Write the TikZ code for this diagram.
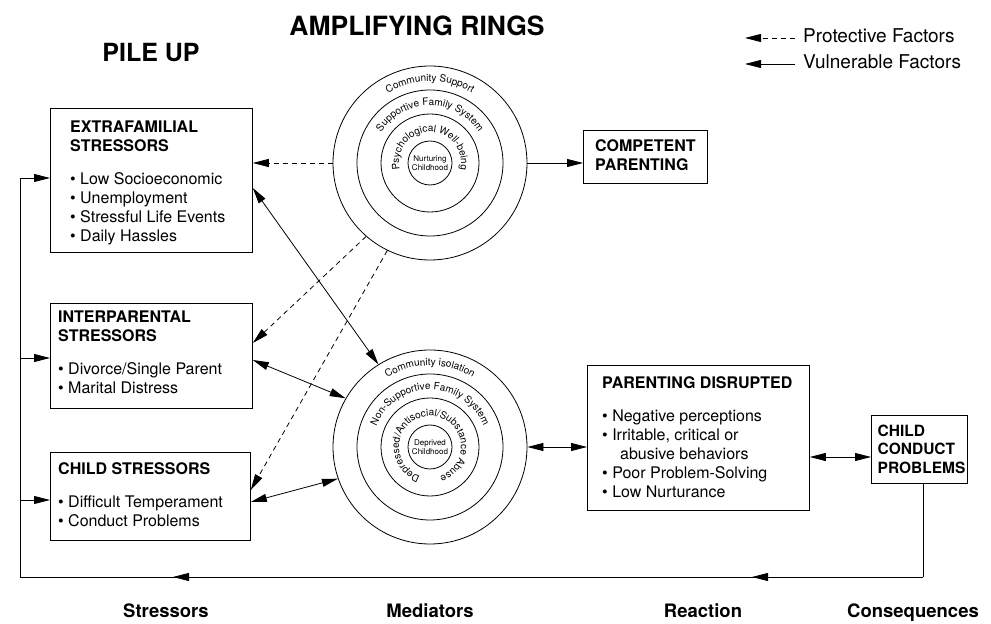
\documentclass[tikz,border=0pt]{standalone}
\usepackage{fontspec}
\setmainfont{TeX Gyre Heros}
\usetikzlibrary{arrows.meta,decorations.text,decorations.markings}

\newcommand{\ringfont}{\fontsize{10pt}{10pt}\selectfont}
\newcommand{\corefont}{\fontsize{8pt}{8.5pt}\selectfont}
\newcommand{\boxfont}{\fontsize{16pt}{19pt}\selectfont}
\newcommand{\smallboxfont}{\fontsize{15.5pt}{18.5pt}\selectfont}
\newcommand{\legendfont}{\fontsize{19pt}{22pt}\selectfont}
\newcommand{\colfont}{\fontsize{18.5pt}{22pt}\selectfont\bfseries}
\newcommand{\titlefont}{\fontsize{25pt}{28pt}\selectfont\bfseries}
\newcommand{\bigtitlefont}{\fontsize{26.5pt}{28pt}\selectfont\bfseries}

\tikzset{
  >={Triangle[length=16pt,width=8pt]},
  conn/.style={line width=0.8pt},
  vul/.style={conn,->},
  vulboth/.style={conn,<->},
  prot/.style={conn,->,dash pattern=on 5pt off 4pt},
  stressbox/.style={draw,line width=0.8pt,rectangle,anchor=north west,inner sep=0pt},
  % text blocks hang from the cap line of their first (capitalised) line
  boxtext/.style={anchor=north west,inner sep=0pt,align=left,font=\boxfont},
  ring/.style={circle,draw,line width=0.8pt,inner sep=0pt,minimum size=194pt},
  ringline/.style={line width=0.8pt},
  core/.style={align=center,inner sep=0pt,font=\corefont},
  ringtext/.style={decorate,decoration={text along path,text align=center,text={|\ringfont|#1}}},
  title/.style={anchor=base,inner sep=0pt,font=\titlefont},
  bigtitle/.style={anchor=base,inner sep=0pt,font=\bigtitlefont},
  legendtext/.style={anchor=base west,inner sep=0pt,font=\legendfont},
  collabel/.style={anchor=base,inner sep=0pt,font=\colfont},
}

\begin{document}
\begin{tikzpicture}[x=1pt,y=1pt]
\useasboundingbox (0,0) rectangle (991,624);
\fill[white] (0,0) rectangle (991,624);

% headings
\node[bigtitle] (ttlRings) at (417,588) {AMPLIFYING RINGS};
\node[title] (ttlPile) at (151,562) {PILE UP};

% legend
\coordinate (lgPtip) at (745,586);
\coordinate (lgPend) at (795,586);
\coordinate (lgVtip) at (745,560);
\coordinate (lgVend) at (795,560);
\draw[prot] (lgPend) -- (lgPtip);
\draw[vul] (lgVend) -- (lgVtip);
\node[legendtext] (lgP) at (803,581) {Protective Factors};
\node[legendtext] (lgV) at (803,555) {Vulnerable Factors};

% protective rings
\node[ring] (ringsT) at (430,461) {};
\draw[ringline] (ringsT.center) circle[radius=73];
\draw[ringline] (ringsT.center) circle[radius=49];
\draw[ringline] (ringsT.center) circle[radius=22];
\node[core] (coreT) at (ringsT.center) {Nurturing\\Childhood};
\begin{scope}[shift={(ringsT.center)}]
  \path[ringtext={Community Support}] (160:81.5) arc[start angle=160,end angle=20,radius=81.5];
  \path[ringtext={Supportive Family System}] (180:57.5) arc[start angle=180,end angle=0,radius=57.5];
  \path[ringtext={Psychological Well-being}] (220:31) arc[start angle=220,end angle=-40,radius=31];
\end{scope}

% vulnerable rings
\node[ring] (ringsB) at (430,177) {};
\draw[ringline] (ringsB.center) circle[radius=73];
\draw[ringline] (ringsB.center) circle[radius=49];
\draw[ringline] (ringsB.center) circle[radius=22];
\node[core] (coreB) at (ringsB.center) {Deprived\\Childhood};
\begin{scope}[shift={(ringsB.center)}]
  \path[ringtext={Community isolation}] (160:81.5) arc[start angle=160,end angle=20,radius=81.5];
  \path[ringtext={Non-Supportive Family System}] (200:57.5) arc[start angle=200,end angle=-20,radius=57.5];
  \path[ringtext={Depressed/Antisocial/Substance Abuse}] (268:31) arc[start angle=268,end angle=-88,radius=31];
\end{scope}

% boxes
\node[stressbox,minimum width=202pt,minimum height=144pt] (ext) at (50,516) {};
\node[stressbox,minimum width=202pt,minimum height=105pt] (inter) at (50,321) {};
\node[stressbox,minimum width=200pt,minimum height=88pt] (child) at (50,172) {};
\node[stressbox,minimum width=124pt,minimum height=53pt] (comp) at (583,494) {};
\node[stressbox,minimum width=222pt,minimum height=145pt] (pd) at (587,259) {};
\node[stressbox,minimum width=96pt,minimum height=68pt] (ccp) at (871,209) {};

\node[boxtext] (extT) at (70,503.6) {\textbf{EXTRAFAMILIAL}\\\textbf{STRESSORS}\\[14.5pt]
  \textbullet{} Low Socioeconomic\\\textbullet{} Unemployment\\\textbullet{} Stressful Life Events\\\textbullet{} Daily Hassles};
\node[boxtext] (interT) at (58,313.6) {\textbf{INTERPARENTAL}\\\textbf{STRESSORS}\\[14.5pt]
  \textbullet{} Divorce/Single Parent\\\textbullet{} Marital Distress};
\node[boxtext] (childT) at (58,161.6) {\textbf{CHILD STRESSORS}\\[14.5pt]
  \textbullet{} Difficult Temperament\\\textbullet{} Conduct Problems};
\node[boxtext] (compT) at (595,484.6) {\textbf{COMPETENT}\\\textbf{PARENTING}};
\node[boxtext] (pdT) at (602,247.6) {\textbf{PARENTING DISRUPTED}\\[14.5pt]
  \textbullet{} Negative perceptions\\\textbullet{} Irritable, critical or\\\hspace*{18pt}abusive behaviors\\
  \textbullet{} Poor Problem-Solving\\\textbullet{} Low Nurturance};
\node[boxtext,font=\smallboxfont] (ccpT) at (877.5,199.3) {\textbf{CHILD}\\\textbf{CONDUCT}\\\textbf{PROBLEMS}};

% connectors between rings and boxes
\draw[prot] (ringsT.west) -- (ringsT.west -| ext.east);
\draw[vul] (ringsT.east) -- (ringsT.east -| comp.west);
\draw[prot] (ringsT.229) -- (inter.east |- 0,281);
\draw[prot] (ringsT.244) -- (child.east |- 0,134);
\draw[vulboth] (ext.east |- 0,436) -- (ringsB.122);
\draw[vulboth] (inter.east |- 0,264) -- (ringsB.150);
\draw[vulboth] (child.east |- 0,122) -- (ringsB.199);
\draw[vulboth] (ringsB.east) -- (ringsB.east -| pd.west);
\draw[vulboth] (pd.east |- 0,167) -- (ccp.west |- 0,167);

% feedback loop
\coordinate (fbR) at (923,47);
\coordinate (fbL) at (20,47);
\coordinate (fbT) at (20,446);
\coordinate (brI) at (20,266);
\coordinate (brC) at (20,124);
\draw[conn] (ccp.south -| fbR) -- (fbR);
\draw[conn,postaction={decorate,decoration={markings,
    mark=at position 171pt with {\arrow{>}},
    mark=at position 750pt with {\arrow{>}}}}]
  (fbR) -- (fbL) -- (fbT);
\draw[vul] (fbT) -- (fbT -| ext.west);
\draw[vul] (brI) -- (brI -| inter.west);
\draw[vul] (brC) -- (brC -| child.west);

% column labels
\node[collabel] (labS) at (166,6) {Stressors};
\node[collabel] (labM) at (430,6) {Mediators};
\node[collabel] (labR) at (703,6) {Reaction};
\node[collabel] (labC) at (913,6) {Consequences};
\end{tikzpicture}
\end{document}
